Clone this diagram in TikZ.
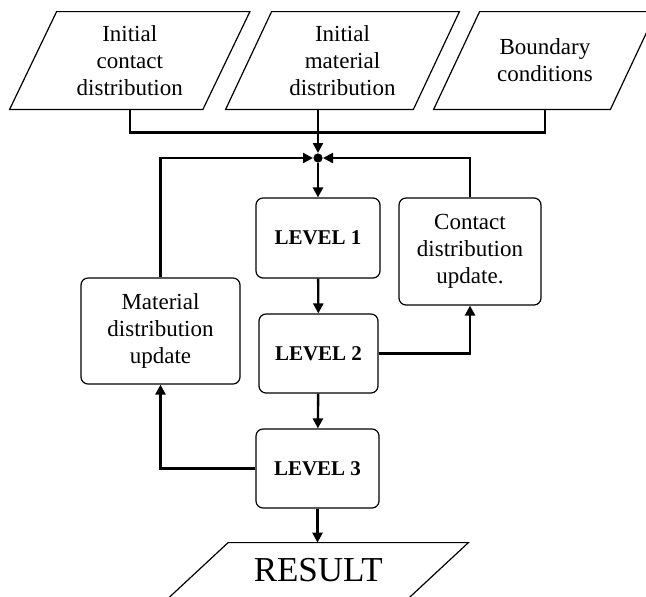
\documentclass[tikz,border=0pt]{standalone}
\usepackage{fontspec}
\setmainfont{Liberation Serif}
\usetikzlibrary{arrows.meta}

\tikzset{
  inbox/.style={inner sep=0pt, align=center, font=\fontsize{11.5}{13.5}\selectfont},
  frame/.style={draw, line width=0.6pt},
  stepbox/.style={frame, rounded corners=3.5pt, inner sep=0pt,
    align=center, font=\fontsize{11.5}{13.5}\selectfont},
  levelbox/.style={stepbox, font=\fontsize{10.5}{12.5}\selectfont\bfseries},
  link/.style={line width=1.2pt, -{Triangle[length=5pt,width=5pt]}},
  feed/.style={line width=1.2pt},
}

\begin{document}
\begin{tikzpicture}[x=0.5pt,y=-0.5pt]
\useasboundingbox (0,0) rectangle (646,596);
\clip (0,0) rectangle (646,596);

% inputs
\node[inbox, minimum width=96.25pt, minimum height=48.5pt] (ic) at (129.75,60.5) {Initial\\contact\\distribution};
\node[inbox, minimum width=93.5pt, minimum height=48.5pt] (im) at (342.5,60.5) {Initial\\material\\distribution};
\node[inbox, minimum width=88pt, minimum height=48.5pt] (bc) at (545,60.5) {Boundary\\conditions};
\node[inbox, minimum width=119.75pt, minimum height=27.5pt, font=\fontsize{17.5}{20}\selectfont] (res) at (318.25,570.5) {RESULT};

\foreach \n/\s in {ic/11.75pt, im/11.5pt, bc/11.5pt, res/15pt} {
  \draw[frame] ([xshift=-\s]\n.south west) -- ([xshift=\s]\n.north west)
    -- ([xshift=\s]\n.north east) -- ([xshift=-\s]\n.south east) -- cycle;
}

\node[circle, fill, inner sep=0pt, minimum size=4.6pt] (hub) at (318,158) {};

% steps
\node[levelbox, minimum width=62pt, minimum height=40pt] (l1) at (318,238) {LEVEL 1};
\node[levelbox, minimum width=59.5pt, minimum height=39.5pt] (l2) at (318.5,353.5) {LEVEL 2};
\node[levelbox, minimum width=61.5pt, minimum height=39.5pt] (l3) at (317.5,468.5) {LEVEL 3};
\node[stepbox, minimum width=79.5pt, minimum height=53pt] (mat) at (160.5,331) {Material\\distribution\\update};
\node[stepbox, minimum width=71pt, minimum height=53.5pt] (con) at (470,251.5) {Contact\\distribution\\update.};

% connectors
\draw[feed] (ic.south) -- ++(0,23) -| (bc.south);
\draw[link] (im.south -| hub) -- (hub);
\draw[link] (mat.north) |- (hub);
\draw[link] (con.north) |- (hub);
\draw[link] (hub) -- (l1);
\draw[link] (l1) -- (l2);
\draw[link] (l2) -- (l3);
\draw[link] (l2.east) -| (con.south);
\draw[link] (l3.west) -| (mat.south);
\draw[link] (l3) -- (res.north -| l3);

\end{tikzpicture}
\end{document}
